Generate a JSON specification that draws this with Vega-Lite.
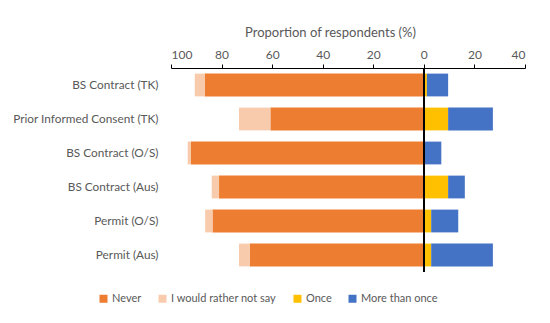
{
  "$schema": "https://vega.github.io/schema/vega-lite/v6.json",
  "width": 354,
  "height": 204,
  "autosize": {"type": "none"},
  "padding": {"left": 171, "top": 68, "right": 25, "bottom": 51},
  "background": "white",
  "config": {
    "font": "Lato",
    "view": {"stroke": null}
  },
  "data": {
    "values": [
      {"item": "BS Contract (TK)", "response": "Never", "value": -86.7, "order": 1},
      {"item": "BS Contract (TK)", "response": "I would rather not say", "value": -3.9, "order": 2},
      {"item": "BS Contract (TK)", "response": "Once", "value": 1.2, "order": 1},
      {"item": "BS Contract (TK)", "response": "More than once", "value": 8.4, "order": 2},
      {"item": "Prior Informed Consent (TK)", "response": "Never", "value": -60.7, "order": 1},
      {"item": "Prior Informed Consent (TK)", "response": "I would rather not say", "value": -12.4, "order": 2},
      {"item": "Prior Informed Consent (TK)", "response": "Once", "value": 9.6, "order": 1},
      {"item": "Prior Informed Consent (TK)", "response": "More than once", "value": 17.7, "order": 2},
      {"item": "BS Contract (O/S)", "response": "Never", "value": -92.1, "order": 1},
      {"item": "BS Contract (O/S)", "response": "I would rather not say", "value": -1.3, "order": 2},
      {"item": "BS Contract (O/S)", "response": "Once", "value": 0, "order": 1},
      {"item": "BS Contract (O/S)", "response": "More than once", "value": 6.9, "order": 2},
      {"item": "BS Contract (Aus)", "response": "Never", "value": -81.0, "order": 1},
      {"item": "BS Contract (Aus)", "response": "I would rather not say", "value": -2.9, "order": 2},
      {"item": "BS Contract (Aus)", "response": "Once", "value": 9.6, "order": 1},
      {"item": "BS Contract (Aus)", "response": "More than once", "value": 6.6, "order": 2},
      {"item": "Permit (O/S)", "response": "Never", "value": -83.6, "order": 1},
      {"item": "Permit (O/S)", "response": "I would rather not say", "value": -2.9, "order": 2},
      {"item": "Permit (O/S)", "response": "Once", "value": 2.9, "order": 1},
      {"item": "Permit (O/S)", "response": "More than once", "value": 10.7, "order": 2},
      {"item": "Permit (Aus)", "response": "Never", "value": -68.9, "order": 1},
      {"item": "Permit (Aus)", "response": "I would rather not say", "value": -4.2, "order": 2},
      {"item": "Permit (Aus)", "response": "Once", "value": 2.9, "order": 1},
      {"item": "Permit (Aus)", "response": "More than once", "value": 24.4, "order": 2}
    ]
  },
  "layer": [
    {
      "mark": {"type": "bar"},
      "encoding": {
        "y": {
          "field": "item",
          "type": "nominal",
          "sort": null,
          "scale": {"paddingInner": 0.33, "paddingOuter": 0.165},
          "axis": {
            "title": null,
            "domain": false,
            "ticks": false,
            "labelPadding": 13,
            "labelFontSize": 11.8,
            "labelColor": "#595959",
            "labelLimit": 200
          }
        },
        "x": {
          "field": "value",
          "type": "quantitative",
          "stack": "zero",
          "scale": {"domain": [-100, 40], "nice": false},
          "axis": {
            "orient": "top",
            "values": [-100, -80, -60, -40, -20, 0, 20, 40],
            "labelExpr": "format(abs(datum.value), 'd')",
            "grid": false,
            "domainColor": "#000000",
            "domainWidth": 1,
            "tickColor": "#000000",
            "tickSize": 4,
            "labelPadding": 3,
            "labelFontSize": 12,
            "labelColor": "#595959",
            "title": "Proportion of respondents (%)",
            "titleFontSize": 13,
            "titleFontWeight": "normal",
            "titleColor": "#595959",
            "titleX": 159,
            "titleY": -36,
            "titleBaseline": "middle"
          }
        },
        "color": {
          "field": "response",
          "type": "nominal",
          "scale": {
            "domain": ["Never", "I would rather not say", "Once", "More than once"],
            "range": ["#ED7D31", "#F8CBAD", "#FFC000", "#4472C4"]
          },
          "legend": {
            "orient": "none",
            "direction": "horizontal",
            "legendX": -73,
            "legendY": 225,
            "title": null,
            "symbolType": "square",
            "symbolSize": 64,
            "symbolStrokeWidth": 0,
            "labelFontSize": 11,
            "labelColor": "#595959",
            "labelOffset": 3,
            "columnPadding": 15
          }
        },
        "order": {"field": "order", "type": "quantitative"}
      }
    },
    {
      "mark": {"type": "rule", "color": "#000000", "strokeWidth": 1.5},
      "encoding": {"x": {"datum": 0}}
    }
  ]
}
